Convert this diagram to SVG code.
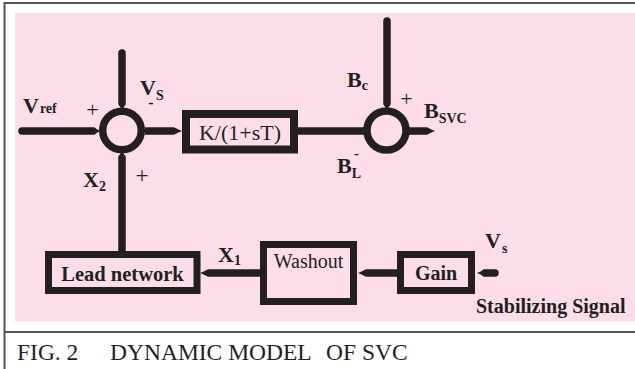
<svg xmlns="http://www.w3.org/2000/svg" width="635" height="369" viewBox="0 0 635 369">
<style>
.frame{fill:none;stroke:#555;stroke-width:2}
.box{fill:#fcdde9;stroke:#231f20;stroke-width:7}
.sum{fill:none;stroke:#231f20;stroke-width:7.5}
.wire{fill:none;stroke:#231f20;stroke-width:7.5;stroke-linecap:round}
.lbl{font-family:"Liberation Serif","Times New Roman",serif;font-weight:bold;font-size:22px;fill:#231f20}
.sub{font-size:14px}
.sign{font-family:"Liberation Serif","Times New Roman",serif;font-size:22px;fill:#231f20;text-anchor:middle}
.blk{font-family:"Liberation Serif","Times New Roman",serif;fill:#231f20;text-anchor:middle}
.cap{font-family:"Liberation Serif","Times New Roman",serif;font-size:23.5px;fill:#231f20}
</style>
<defs>
<marker id="tip" markerUnits="userSpaceOnUse" markerWidth="10" markerHeight="10" refX="0" refY="0" viewBox="0 -5 10 10" orient="auto" overflow="visible">
<path d="M0,-3.8 L5,-1.3 L8,0 L5,1.3 L0,3.8 Z" fill="#231f20"/>
</marker>
</defs>
<rect x="0" y="0" width="635" height="369" fill="#fff"/>
<rect x="15" y="13" width="620" height="308.5" fill="#fcdde9"/>
<path class="frame" d="M635,3 H4.5 V369"/>
<path class="frame" d="M4.5,332 H635"/>

<g id="connectors">
<path class="wire" d="M22,131 H93" marker-end="url(#tip)"/>
<path class="wire" d="M122,53 V103" marker-end="url(#tip)"/>
<path class="wire" d="M122,251 V158" marker-end="url(#tip)"/>
<path class="wire" d="M145,131 H174" marker-end="url(#tip)" style="stroke-linecap:butt"/>
<path class="wire" d="M298,131 H368" style="stroke-linecap:butt"/>
<path class="wire" d="M387,21 V103" marker-end="url(#tip)"/>
<path class="wire" d="M409,131 H427" marker-end="url(#tip)" style="stroke-linecap:butt"/>
<path class="wire" d="M262,273 H208" marker-end="url(#tip)" style="stroke-linecap:butt"/>
<path class="wire" d="M397,273 H366" marker-end="url(#tip)" style="stroke-linecap:butt"/>
<path class="wire" d="M495,273 H485" marker-end="url(#tip)"/>
</g>

<g id="sum1"><circle class="sum" cx="122" cy="130.5" r="19.3"/></g>
<g id="sum2"><circle class="sum" cx="386.5" cy="130.5" r="19.5"/></g>

<g id="kblock">
<rect class="box" x="186" y="114" width="108" height="35.5" style="stroke-width:8"/>
<text class="blk" x="240" y="140" font-size="22">K/(1+sT)</text>
</g>
<g id="lead">
<rect class="box" x="48.5" y="254.5" width="148.5" height="36"/>
<text class="blk" x="122.5" y="281" font-size="20.5" font-weight="bold">Lead network</text>
</g>
<g id="washout">
<rect class="box" x="263.5" y="244.5" width="90" height="57"/>
<text class="blk" x="308.5" y="268" font-size="20">Washout</text>
</g>
<g id="gain">
<rect class="box" x="400.5" y="254.5" width="71" height="36"/>
<text class="blk" x="436" y="280" font-size="20" font-weight="bold">Gain</text>
</g>

<g id="labels">
<text class="lbl" x="23" y="113">V<tspan class="sub" dx="1" dy="0">ref</tspan></text>
<text class="sign" x="92.5" y="116.5">+</text>
<text class="lbl" x="140" y="95">V<tspan class="sub" dx="0" dy="5">S</tspan></text>
<text class="lbl" x="151" y="108" style="font-size:16px" text-anchor="middle">-</text>
<text class="lbl" x="83" y="187">X<tspan class="sub" dy="4">2</tspan></text>
<text class="sign" x="142" y="183" style="font-size:23px">+</text>
<text class="lbl" x="347" y="87">B<tspan class="sub" dy="3">c</tspan></text>
<text class="sign" x="406.5" y="106">+</text>
<text class="lbl" x="424" y="118">B<tspan class="sub" dy="5">SVC</tspan></text>
<text class="lbl" x="337" y="173">B<tspan class="sub" dy="5">L</tspan></text>
<text class="lbl" x="356.5" y="158" style="font-size:15px" text-anchor="middle">-</text>
<text class="lbl" x="218" y="262">X<tspan class="sub" dy="3">1</tspan></text>
<text class="lbl" x="485" y="248">V<tspan class="sub" dx="1" dy="5">s</tspan></text>
<text class="lbl" x="476" y="313" style="font-size:20px">Stabilizing Signal</text>
</g>

<g id="caption">
<text class="cap" x="17" y="360">FIG. 2</text>
<text class="cap" x="110" y="360">DYNAMIC MODEL</text>
<text class="cap" x="326" y="360">OF SVC</text>
</g>
</svg>
